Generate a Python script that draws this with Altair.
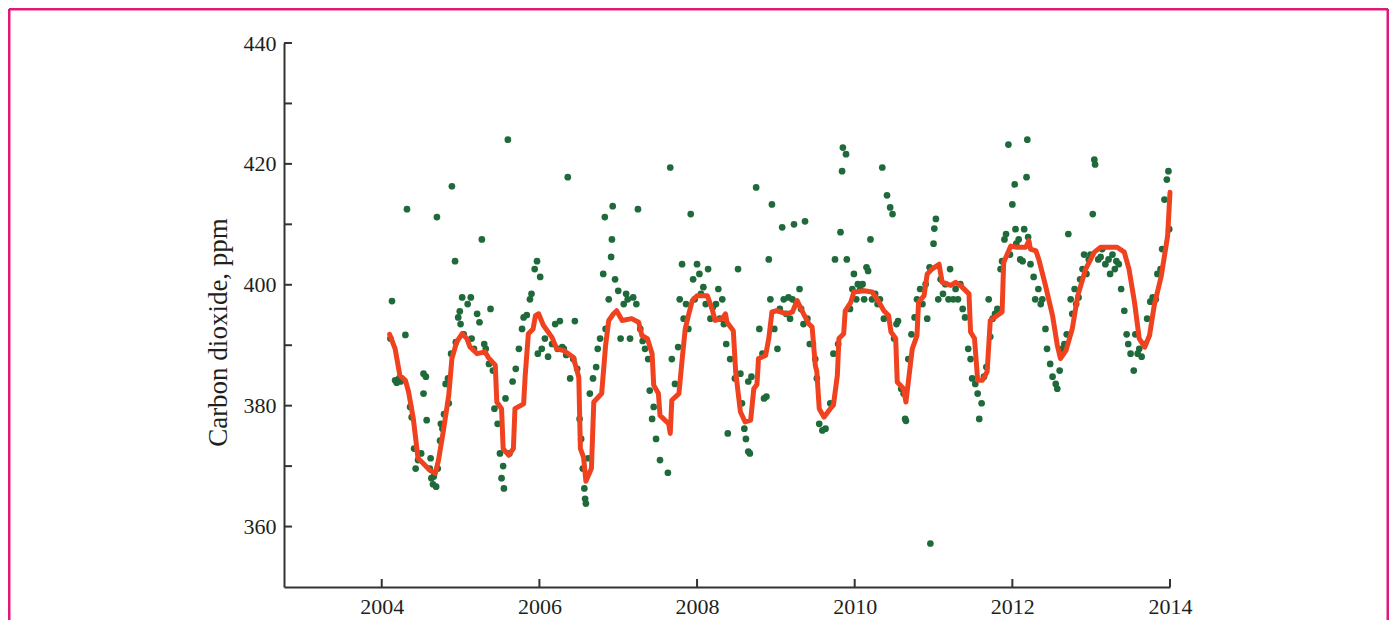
import altair as alt
import pandas as pd

# ---------------- data ----------------
pts_year = [
    2004.13, 2004.11, 2004.17, 2004.19, 2004.22, 2004.24, 2004.32, 2004.30, 2004.36, 2004.38,
    2004.41, 2004.43, 2004.46, 2004.50, 2004.53, 2004.56, 2004.53, 2004.57, 2004.61, 2004.63,
    2004.65, 2004.69, 2004.66, 2004.62, 2004.70, 2004.71, 2004.74, 2004.75, 2004.77, 2004.79,
    2004.81, 2004.84, 2004.85, 2004.88, 2004.89, 2004.93, 2004.94, 2004.97, 2004.99, 2005.00,
    2005.02, 2005.04,
    2005.09, 2005.13, 2005.14, 2005.17, 2005.21, 2005.24, 2005.27, 2005.30, 2005.32, 2005.36,
    2005.38, 2005.41, 2005.43, 2005.47, 2005.50, 2005.52, 2005.54, 2005.55, 2005.57, 2005.60,
    2005.62, 2005.66, 2005.70, 2005.74, 2005.78, 2005.80, 2005.84, 2005.88, 2005.90, 2005.94,
    2005.97, 2006.01, 2006.03, 2006.07, 2005.98, 2006.11, 2006.16, 2006.20, 2006.23, 2006.26,
    2006.29, 2006.31, 2006.34, 2006.36, 2006.39, 2006.43, 2006.45, 2006.48,
    2006.51, 2006.53, 2006.55, 2006.57, 2006.58, 2006.59, 2006.62, 2006.64, 2006.68, 2006.72,
    2006.74, 2006.77, 2006.81, 2006.83, 2006.84, 2006.88, 2006.91, 2006.93, 2006.92, 2006.96,
    2007.00, 2007.03, 2007.07, 2007.10, 2007.12, 2007.15, 2007.19, 2007.23, 2007.25, 2007.28,
    2007.31, 2007.34, 2007.38, 2007.40, 2007.43, 2007.45, 2007.48, 2007.53, 2007.63, 2007.66,
    2007.68, 2007.72, 2007.76, 2007.78, 2007.81, 2007.83, 2007.86, 2007.89, 2007.92, 2007.95,
    2007.97, 2008.00, 2008.03, 2008.05, 2008.08, 2008.11, 2008.14, 2008.17, 2008.20, 2008.24,
    2008.27, 2008.29, 2008.32, 2008.34, 2008.37, 2008.39, 2008.42, 2008.48, 2008.52, 2008.55,
    2008.57, 2008.60, 2008.62, 2008.65, 2008.67, 2008.65, 2008.69,
    2008.75, 2008.79, 2008.83, 2008.85, 2008.88, 2008.91, 2008.95, 2008.93, 2008.98, 2009.02,
    2009.05, 2009.08, 2009.10, 2009.13, 2009.16, 2009.18, 2009.21, 2009.23, 2009.26, 2009.30,
    2009.32, 2009.35, 2009.37, 2009.40, 2009.43, 2009.47, 2009.50, 2009.52, 2009.55, 2009.59,
    2009.63, 2009.69, 2009.73, 2009.75, 2009.79, 2009.82, 2009.84, 2009.85, 2009.89, 2009.90,
    2009.94, 2009.97, 2009.99, 2010.02, 2010.04, 2010.07, 2010.10, 2010.12, 2010.15, 2010.17,
    2010.20, 2010.22, 2010.26, 2010.29, 2010.32, 2010.35, 2010.37, 2010.41, 2010.45, 2010.48,
    2010.50, 2010.53, 2010.55, 2010.59, 2010.62, 2010.64, 2010.65, 2010.68, 2010.72, 2010.76,
    2010.79, 2010.83, 2010.86, 2010.90, 2010.92, 2010.95, 2010.96, 2011.00, 2011.01, 2011.03,
    2011.06, 2011.09, 2011.12, 2011.15, 2011.19, 2011.21, 2011.25, 2011.28, 2011.31, 2011.34,
    2011.37, 2011.40, 2011.44, 2011.47, 2011.49, 2011.53, 2011.56, 2011.58, 2011.61, 2011.64,
    2011.67, 2011.70, 2011.72, 2011.75, 2011.78, 2011.81, 2011.85, 2011.87, 2011.90, 2011.92,
    2011.95, 2011.97, 2012.00, 2012.03, 2012.04, 2012.05, 2012.08, 2012.10, 2012.13, 2012.15,
    2012.18, 2012.19, 2012.20, 2012.23, 2012.27, 2012.29, 2012.33, 2012.36, 2012.38, 2012.42,
    2012.44, 2012.48, 2012.51, 2012.55, 2012.57, 2012.60, 2012.63, 2012.66, 2012.69, 2012.71,
    2012.74, 2012.76, 2012.79, 2012.81, 2012.84, 2012.86, 2012.89, 2012.91, 2012.94, 2012.97,
    2012.99, 2013.02, 2013.04, 2013.05, 2013.09, 2013.12, 2013.14, 2013.18, 2013.22, 2013.24,
    2013.27, 2013.30, 2013.32, 2013.35, 2013.38, 2013.42, 2013.45, 2013.47, 2013.50, 2013.54,
    2013.56, 2013.59, 2013.61, 2013.64, 2013.67, 2013.71, 2013.75, 2013.78, 2013.82, 2013.84,
    2013.88, 2013.90, 2013.93, 2013.96, 2013.98, 2013.99,
]
pts_ppm = [
    397.3, 391.1, 384.2, 383.8, 384.5, 384.0, 412.5, 391.7, 379.8, 378.1,
    372.9, 369.6, 371.0, 372.1, 385.3, 384.8, 382.0, 377.6, 369.6, 368.0,
    367.0, 366.6, 368.3, 371.3, 411.2, 369.6, 374.2, 377.0, 376.2, 378.6,
    383.6, 384.5, 380.4, 388.6, 416.3, 403.9, 390.5, 394.6, 395.6, 393.5,
    397.9, 391.8,
    396.8, 397.9, 391.1, 389.4, 395.2, 393.8, 407.5, 390.2, 389.4, 386.9,
    396.0, 385.8, 379.5, 377.0, 372.1, 368.0, 370.0, 366.3, 381.2, 424.0,
    372.1, 384.0, 386.1, 389.4, 392.7, 394.6, 395.0, 397.6, 398.5, 402.6,
    403.9, 401.3, 389.4, 391.1, 388.6, 388.1, 390.2, 393.5, 389.4, 394.0,
    389.7, 389.4, 388.4, 417.8, 384.5, 387.7, 394.0, 386.1,
    377.8, 374.5, 369.6, 366.3, 364.6, 363.8, 371.3, 382.0, 384.5, 386.4,
    389.4, 391.1, 401.8, 411.2, 392.7, 397.6, 404.6, 413.0, 407.5, 400.9,
    399.0, 391.1, 396.8, 398.5, 397.6, 391.1, 397.9, 396.8, 412.5, 392.7,
    390.7, 389.4, 387.7, 382.5, 377.8, 379.8, 374.5, 371.0, 368.9, 419.4,
    387.7, 383.6, 389.7, 397.6, 403.4, 394.4, 396.8, 392.7, 411.7, 400.9,
    397.6, 403.4, 401.8, 398.5, 399.6, 396.8, 402.6, 394.4, 396.3, 396.8,
    399.3, 394.4, 397.6, 393.5, 390.2, 375.4, 387.7, 384.5, 402.6, 385.3,
    380.4, 376.2, 374.5, 372.4, 372.1, 384.0, 384.8,
    416.1, 392.7, 388.6, 381.2, 381.5, 404.2, 413.3, 397.6, 392.7, 389.4,
    396.0, 409.5, 397.6, 395.2, 397.9, 394.4, 397.6, 410.0, 396.8, 399.3,
    396.0, 393.5, 410.5, 394.4, 390.2, 390.2, 387.7, 384.5, 377.0, 375.9,
    376.2, 380.4, 388.6, 404.2, 390.2, 408.7, 418.8, 422.7, 421.6, 404.2,
    396.0, 399.3, 401.8, 397.6, 400.1, 399.3, 400.1, 397.6, 402.9, 402.3,
    407.5, 397.6, 398.5, 396.8, 397.6, 419.4, 394.4, 414.8, 412.8, 411.7,
    391.1, 393.5, 394.0, 382.8, 382.0, 377.8, 377.5, 387.7, 391.8, 394.6,
    397.6, 399.3, 396.8, 400.1, 394.4, 402.9, 357.2, 406.8, 409.3, 410.9,
    397.6, 400.9, 398.5, 400.1, 397.6, 402.6, 397.6, 399.3, 397.6, 400.1,
    396.0, 394.6, 389.4, 387.7, 384.5, 383.6, 382.0, 377.8, 380.4, 384.8,
    386.4, 397.6, 391.4, 394.4, 395.2, 396.0, 402.6, 403.9, 407.5, 408.4,
    423.2, 405.0, 413.3, 416.6, 409.2, 406.8, 407.5, 404.2, 403.9, 409.2,
    417.8, 424.0, 407.9, 403.4, 401.3, 397.6, 399.3, 396.8, 397.6, 392.7,
    389.4, 386.9, 384.8, 383.6, 382.8, 385.8, 389.4, 390.2, 391.8, 408.4,
    397.6, 395.2, 399.3, 396.8, 397.9, 400.9, 402.6, 405.0, 401.8, 404.2,
    405.0, 411.7, 420.7, 419.9, 404.2, 404.6, 405.9, 403.4, 404.2, 401.8,
    405.0, 402.6, 403.9, 403.4, 399.3, 395.7, 391.8, 390.2, 388.6, 385.8,
    391.8, 388.6, 389.4, 388.1, 390.2, 394.4, 397.2, 397.9, 397.6, 401.8,
    402.6, 405.9, 414.1, 417.4, 418.8, 409.2,
]

fit_year = [
    2004.10, 2004.17, 2004.23, 2004.30, 2004.34, 2004.40, 2004.46, 2004.53, 2004.61, 2004.68,
    2004.72, 2004.78, 2004.85, 2004.89, 2004.95, 2005.02, 2005.08, 2005.12, 2005.21, 2005.31,
    2005.35, 2005.44, 2005.46, 2005.52, 2005.54, 2005.61, 2005.67, 2005.69, 2005.80, 2005.82,
    2005.86, 2005.92, 2005.95, 2005.99, 2006.05, 2006.16, 2006.22, 2006.31, 2006.43, 2006.50,
    2006.52, 2006.56, 2006.59, 2006.66, 2006.69, 2006.79, 2006.84, 2006.88, 2006.94, 2006.98,
    2007.05, 2007.17, 2007.26, 2007.30, 2007.37, 2007.43, 2007.45, 2007.51, 2007.53, 2007.64,
    2007.66, 2007.68, 2007.77, 2007.81, 2007.85, 2007.89, 2007.94, 2008.00, 2008.13, 2008.19,
    2008.23, 2008.32, 2008.36, 2008.38, 2008.46, 2008.49, 2008.55, 2008.61, 2008.68, 2008.72,
    2008.76, 2008.78, 2008.87, 2008.91, 2008.95, 2009.01, 2009.14, 2009.21, 2009.27, 2009.31,
    2009.35, 2009.42, 2009.46, 2009.50, 2009.52, 2009.55, 2009.61, 2009.69, 2009.73, 2009.78,
    2009.80, 2009.86, 2009.88, 2009.95, 2009.99, 2010.12, 2010.22, 2010.31, 2010.37, 2010.43,
    2010.46, 2010.52, 2010.54, 2010.62, 2010.65, 2010.69, 2010.73, 2010.79, 2010.81, 2010.88,
    2010.92, 2010.98, 2011.07, 2011.11, 2011.22, 2011.28, 2011.34, 2011.45, 2011.47, 2011.52,
    2011.56, 2011.62, 2011.68, 2011.72, 2011.87, 2011.89, 2011.98, 2012.06, 2012.17, 2012.21,
    2012.23, 2012.30, 2012.34, 2012.42, 2012.51, 2012.57, 2012.61, 2012.68, 2012.76, 2012.83,
    2012.93, 2013.04, 2013.12, 2013.33, 2013.42, 2013.48, 2013.55, 2013.61, 2013.68, 2013.74,
    2013.80, 2013.89, 2013.97, 2014.00,
]
fit_ppm = [
    391.8, 389.4, 385.0, 384.2, 382.3, 377.9, 371.3, 370.4, 369.3, 368.8,
    371.0, 375.7, 381.7, 387.8, 390.5, 391.9, 391.1, 389.7, 388.6, 388.9,
    388.0, 386.7, 380.6, 379.5, 372.9, 371.8, 372.9, 379.5, 380.3, 385.0,
    391.9, 392.7, 394.9, 395.2, 393.3, 391.3, 389.4, 389.1, 388.0, 384.7,
    372.9, 371.5, 367.5, 369.6, 380.6, 382.0, 390.0, 394.1, 395.2, 395.7,
    394.1, 394.4, 393.8, 391.6, 391.1, 388.6, 383.4, 382.0, 378.4, 377.0,
    375.4, 380.9, 382.0, 387.5, 392.7, 394.9, 397.4, 398.2, 398.2, 396.0,
    394.1, 394.4, 395.2, 393.8, 392.4, 385.6, 379.0, 377.3, 377.6, 382.8,
    383.5, 387.8, 388.3, 391.1, 395.5, 395.7, 395.2, 395.5, 397.4, 396.3,
    395.2, 393.5, 393.0, 386.7, 385.6, 379.5, 378.1, 379.5, 380.1, 385.0,
    391.1, 391.9, 395.7, 397.1, 398.8, 399.0, 398.8, 397.1, 395.7, 394.9,
    392.2, 391.1, 383.9, 382.8, 380.6, 385.0, 389.4, 391.6, 397.1, 398.2,
    401.8, 402.6, 403.4, 400.4, 399.9, 400.4, 399.9, 398.5, 392.2, 391.1,
    384.2, 384.2, 385.6, 394.1, 395.5, 403.7, 406.4, 406.2, 406.2, 407.3,
    405.9, 405.6, 404.0, 399.9, 394.9, 390.0, 387.8, 389.1, 392.7, 398.2,
    402.6, 405.4, 406.2, 406.2, 405.4, 402.6, 397.1, 391.1, 389.7, 391.6,
    396.6, 401.5, 408.1, 415.3,
]

x_tick_years = [2004, 2006, 2008, 2010, 2012, 2014]
y_tick_values = [360, 370, 380, 390, 400, 410, 420, 430, 440]
y_label_values = [360, 380, 400, 420, 440]
x_domain = [2002.76, 2014]
y_domain = [350, 440]
y_title = "Carbon dioxide, ppm"

# ---------------- styling ----------------
GREEN = "#1f6a3a"
RED = "#f0421f"
AXIS = "#333333"
TEXT = "#231f20"
FRAME = "#dd1a7e"
FONT = "Liberation Serif"
W, H = 886, 544
PAD = {"left": 276, "top": 35, "right": 219, "bottom": 33}

xs = alt.Scale(domain=x_domain, nice=False, zero=False)
ys = alt.Scale(domain=y_domain, nice=False, zero=False)

x_axis = alt.Axis(
    values=x_tick_years, format="d", title=None, ticks=False, grid=False,
    labelPadding=9, labelFlush=False, domainColor=AXIS, domainWidth=2,
    labelFont=FONT, labelFontSize=22, labelColor=TEXT)
y_axis = alt.Axis(
    values=y_label_values, title=y_title, ticks=False, grid=False,
    labelPadding=8, labelFlush=False, domainColor=AXIS, domainWidth=2,
    labelFont=FONT, labelFontSize=22, labelColor=TEXT,
    titleFont=FONT, titleFontSize=27, titleFontWeight="normal", titleColor=TEXT,
    titleAngle=270, titleX=-66, titleY=289, titleAlign="center", titleBaseline="middle")

points_df = pd.DataFrame({"year": pts_year, "ppm": pts_ppm})
fit_df = pd.DataFrame({"year": fit_year, "ppm": fit_ppm})
xt_df = pd.DataFrame({"year": x_tick_years})
yt_df = pd.DataFrame({"ppm": y_tick_values})
one = pd.DataFrame({"k": [0]})

X = alt.X("year:Q", scale=xs, axis=x_axis, title=None)
Y = alt.Y("ppm:Q", scale=ys, axis=y_axis, title=y_title)

points = alt.Chart(points_df).mark_circle(size=45, color=GREEN, opacity=1).encode(x=X, y=Y)

line = alt.Chart(fit_df).mark_line(
    color=RED, strokeWidth=5, strokeJoin="round", strokeCap="round"
).encode(x=X, y=Y, order="year:Q")

yticks = alt.Chart(yt_df).mark_rule(color=AXIS, strokeWidth=2).encode(
    y=Y, x=alt.value(0), x2=alt.value(8))
xticks = alt.Chart(xt_df).mark_rule(color=AXIS, strokeWidth=2).encode(
    x=X, y=alt.value(H), y2=alt.value(H - 8))

bottom_edge = H + PAD["bottom"]
frame_left = alt.Chart(one).mark_rule(color=FRAME, strokeWidth=3).encode(
    x=alt.value(-275), y=alt.value(-34), y2=alt.value(bottom_edge))
frame_top = alt.Chart(one).mark_rule(color=FRAME, strokeWidth=3).encode(
    x=alt.value(-275), x2=alt.value(1104), y=alt.value(-34))
frame_right = alt.Chart(one).mark_rule(color=FRAME, strokeWidth=3).encode(
    x=alt.value(1104), y=alt.value(-34), y2=alt.value(bottom_edge))

chart = alt.layer(points, line, yticks, xticks, frame_left, frame_top, frame_right).properties(
    width=W, height=H, padding=PAD, background="white",
    autosize=alt.AutoSizeParams(type="none"),
).configure_view(stroke="transparent", strokeWidth=0)

chart.save("out.html", embed_options={"renderer": "svg", "actions": False})
